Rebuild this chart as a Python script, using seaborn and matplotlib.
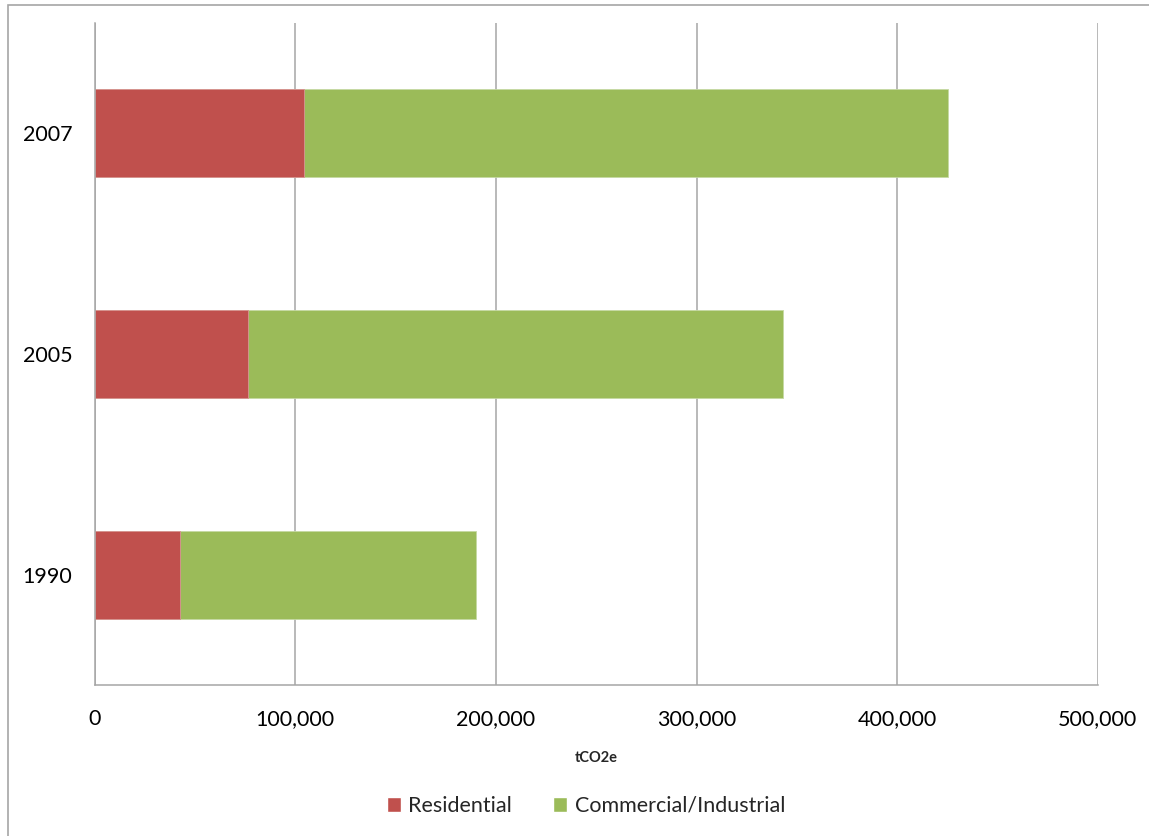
import numpy as np
import pandas as pd
import matplotlib
matplotlib.use("Agg")
import matplotlib.pyplot as plt
import matplotlib.ticker as mticker
from matplotlib.patches import Rectangle, Patch
import seaborn as sns

years = ["2007", "2005", "1990"]
residential = [104300, 76600, 42500]
commercial = [321200, 266400, 147400]

df = pd.DataFrame({"Year": years, "Residential": residential, "Commercial/Industrial": commercial})
df["Total"] = df["Residential"] + df["Commercial/Industrial"]

red = "#C0504D"
green = "#9BBB59"
grey = "#A6A6A6"

sns.set_style("white")
plt.rcParams["font.family"] = ["Lato", "DejaVu Sans"]

fig = plt.figure(figsize=(11.49, 8.36), dpi=100)
ax = fig.add_axes([94.7 / 1149, 1 - 685 / 836, (1097.7 - 94.7) / 1149, (685 - 23) / 836])

# stacked: total first (green), residential over it (red)
sns.barplot(data=df, y="Year", x="Total", order=years, color=green, width=0.4,
            saturation=1, edgecolor="#C5D9A3", linewidth=0.6, ax=ax)
sns.barplot(data=df, y="Year", x="Residential", order=years, color=red, width=0.4,
            saturation=1, edgecolor="#D99594", linewidth=0.6, ax=ax)

ax.set_xlim(0, 500000)
ax.set_ylim(2.5, -0.5)
ax.xaxis.set_major_locator(mticker.MultipleLocator(100000))
ax.xaxis.set_major_formatter(mticker.FuncFormatter(lambda v, p: f"{int(v):,}"))
ax.grid(axis="x", color=grey, linewidth=1.1)
ax.set_axisbelow(True)

for s in ["top", "right"]:
    ax.spines[s].set_visible(False)
for s in ["left", "bottom"]:
    ax.spines[s].set_color(grey)
    ax.spines[s].set_linewidth(1.1)

ax.tick_params(axis="x", length=5, width=1.1, color=grey, labelsize=15.5, pad=12, labelcolor="black")
ax.tick_params(axis="y", which="major", length=0, labelsize=15.5, pad=16, labelcolor="black")
ax.yaxis.set_minor_locator(mticker.FixedLocator([-0.5, 0.5, 1.5, 2.5]))
ax.tick_params(axis="y", which="minor", length=5, width=1.1, color=grey)

ax.set_ylabel("")
ax.set_xlabel("tCO2e", fontsize=10.5, fontweight="bold", labelpad=16)

handles = [Patch(facecolor=red, label="Residential"),
           Patch(facecolor=green, label="Commercial/Industrial")]
fig.legend(handles=handles, loc="center", bbox_to_anchor=(586 / 1149, 1 - 806 / 836),
           ncol=2, frameon=False, fontsize=15.5, handlelength=0.65, handleheight=0.65,
           handletextpad=0.35, columnspacing=1.9)

# chart area border
fig.patches.append(Rectangle((7.5 / 1149, -0.1), 1.2, 1 - 5.5 / 836 + 0.1,
                             transform=fig.transFigure, fill=False, edgecolor=grey,
                             linewidth=1.2, figure=fig))

fig.savefig("out.png", dpi=100, facecolor="white")
